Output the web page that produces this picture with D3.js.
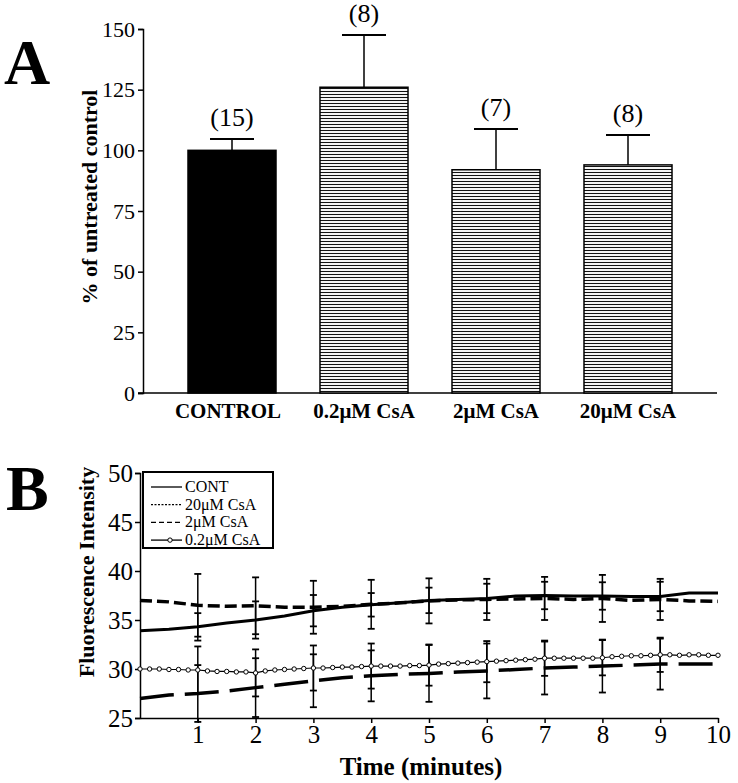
<!DOCTYPE html>
<html><head><meta charset="utf-8">
<script src="https://cdn.jsdelivr.net/npm/d3@7"></script>
<style>
html,body{margin:0;padding:0;background:#fff;}
svg{display:block;}
svg text{font-family:"Liberation Serif","Times New Roman",serif !important;fill:#000;}
</style></head>
<body><svg id="c" width="738" height="783"></svg>
<script>
// ---------- Panel A data ----------
const categoriesA = ["CONTROL", "0.2\u03bcM CsA", "2\u03bcM CsA", "20\u03bcM CsA"];
const valuesA = [100, 126, 92, 94];
const errorsA = [4.7, 21.5, 16.8, 12.3];
const countsA = ["(15)", "(8)", "(7)", "(8)"];
const ticksA = [0, 25, 50, 75, 100, 125, 150];

// ---------- Panel B data ----------
const timeHalfMin = [0,0.5,1,1.5,2,2.5,3,3.5,4,4.5,5,5.5,6,6.5,7,7.5,8,8.5,9,9.5,10];
const contB = [33.9,34.05,34.3,34.7,35.0,35.4,35.95,36.3,36.55,36.75,37.0,37.1,37.2,37.45,37.5,37.45,37.45,37.4,37.4,37.75,37.75];
const cs20B = [37.0,36.85,36.5,36.4,36.45,36.3,36.3,36.4,36.6,36.75,36.95,37.05,37.1,37.15,37.2,37.1,37.2,37.0,37.1,36.95,36.9];
const cs2B  = [27.0,27.35,27.5,27.75,28.1,28.45,28.8,29.1,29.3,29.45,29.55,29.7,29.8,29.95,30.1,30.2,30.3,30.4,30.5,30.5,30.5];
const timeSec = [0,10,20,30,40,50,60,70,80,90,100,110,120,130,140,150,160,170,180,190,200,210,220,230,240,250,260,270,280,290,300,310,320,330,340,350,360,370,380,390,400,410,420,430,440,450,460,470,480,490,500,510,520,530,540,550,560,570,580,590,600];
const cs02B = [30.0,30.0,30.0,29.95,29.95,29.9,
               29.9,29.8,29.75,29.75,29.7,29.7,
               29.6,29.8,29.9,29.95,30.0,30.05,
               30.1,30.1,30.15,30.2,30.2,30.25,
               30.3,30.3,30.3,30.3,30.35,30.35,
               30.4,30.5,30.55,30.6,30.65,30.7,
               30.75,30.8,30.85,30.9,30.95,31.0,
               31.1,31.1,31.1,31.1,31.1,31.1,
               31.15,31.25,31.3,31.35,31.35,31.4,
               31.45,31.45,31.4,31.45,31.45,31.4,
               31.4];
const errMinutes = [1,2,3,4,5,6,7,8,9];
const contErr = [1.4,1.9,1.6,1.2,1.3,1.5,1.4,1.4,1.5];
const cs20Err = [3.2,2.9,2.7,2.5,2.3,2.1,2.2,2.4,2.1];
const cs2Err  = [2.9,3.0,2.7,2.6,2.9,2.8,2.7,2.7,2.6];
const cs02Err = [2.4,2.4,2.3,2.3,2.1,2.1,1.8,1.8,1.75];
const ticksBy = [25,30,35,40,45,50];
const ticksBx = [1,2,3,4,5,6,7,8,9,10];
const legendB = ["CONT", "20\u03bcM CsA", "2\u03bcM CsA", "0.2\u03bcM CsA"];

const svg = d3.select("#c");
const SERIF = "'Liberation Serif','Times New Roman',serif";

// ================= PANEL A =================
const gA = svg.append("g");
const yA = d3.scaleLinear().domain([0,150]).range([393,29]);
const xA = d3.scaleBand().domain(categoriesA).range([166,694]).paddingInner(1/3).paddingOuter(1/6);

const defs = svg.append("defs");
const pat = defs.append("pattern").attr("id","hatch").attr("patternUnits","userSpaceOnUse")
  .attr("width",8).attr("height",3);
pat.append("rect").attr("width",8).attr("height",3).attr("fill","#fff");
pat.append("line").attr("x1",0).attr("x2",8).attr("y1",1.5).attr("y2",1.5)
  .attr("stroke","#111").attr("stroke-width",1.1);

gA.append("text").attr("x",4).attr("y",84).style("font-size","64px").style("font-weight","bold").text("A");

function styleAxis(g, fs){
  g.attr("font-family", SERIF);
  g.select(".domain").attr("stroke","#000").attr("stroke-width",1.5);
  g.selectAll(".tick line").attr("stroke","#000").attr("stroke-width",1.5);
  g.selectAll(".tick text").style("font-family",SERIF).style("font-size",fs+"px").attr("fill","#000");
}

gA.append("g").attr("transform","translate(143,0)")
  .call(d3.axisLeft(yA).tickValues(ticksA).tickSize(5).tickPadding(3))
  .call(g=>styleAxis(g,22));
gA.append("line").attr("x1",138).attr("x2",717).attr("y1",yA(0)).attr("y2",yA(0)).attr("stroke","#000").attr("stroke-width",1.5);

categoriesA.forEach((c,i)=>{
  const cx = xA(c)+xA.bandwidth()/2;
  gA.append("line").attr("x1",cx).attr("x2",cx).attr("y1",yA(valuesA[i])).attr("y2",yA(valuesA[i]+errorsA[i])).attr("stroke","#000").attr("stroke-width",1.5);
  gA.append("line").attr("x1",cx-22).attr("x2",cx+22).attr("y1",yA(valuesA[i]+errorsA[i])).attr("y2",yA(valuesA[i]+errorsA[i])).attr("stroke","#000").attr("stroke-width",2);
  gA.append("text").attr("x",cx).attr("y",yA(valuesA[i]+errorsA[i])-13).attr("text-anchor","middle").style("font-size","26px").text(countsA[i]);
});
gA.selectAll("rect.bar").data(categoriesA).enter().append("rect").attr("class","bar")
  .attr("x",d=>xA(d)).attr("width",xA.bandwidth())
  .attr("y",(d,i)=>yA(valuesA[i])).attr("height",(d,i)=>yA(0)-yA(valuesA[i]))
  .attr("fill",(d,i)=>i===0?"#000":"url(#hatch)").attr("stroke","#000").attr("stroke-width",1.5);
categoriesA.forEach((c,i)=>{
  gA.append("text").attr("x",xA(c)+xA.bandwidth()/2-(i===0?4:0)).attr("y",418).attr("text-anchor","middle")
    .style("font-size","21px").style("font-weight","bold").text(c);
});
gA.append("text").attr("transform","translate(97,197) rotate(-90)").attr("text-anchor","middle")
  .style("font-size","22px").style("font-weight","bold").text("% of untreated control");

// ================= PANEL B =================
const gB = svg.append("g");
const xB = d3.scaleLinear().domain([0,10]).range([140,718]);
const yB = d3.scaleLinear().domain([25,50]).range([718,473]);

gB.append("text").attr("x",6).attr("y",510).style("font-size","64px").style("font-weight","bold").text("B");

gB.append("g").attr("transform","translate(140,0)")
  .call(d3.axisLeft(yB).tickValues(ticksBy).tickSize(5).tickPadding(2))
  .call(g=>styleAxis(g,25));
gB.append("g").attr("transform","translate(0,718)")
  .call(d3.axisBottom(xB).tickValues(ticksBx).tickSize(5).tickPadding(2).tickSizeOuter(0))
  .call(g=>styleAxis(g,25));

gB.append("text").attr("x",421).attr("y",775).attr("text-anchor","middle").style("font-size","25px")
  .style("font-weight","bold").text("Time (minutes)");
gB.append("text").attr("transform","translate(94,572) rotate(-90)").attr("text-anchor","middle")
  .style("font-size","22px").style("font-weight","bold").text("Fluorescence Intensity");

function errBars(vals, idxStep, errs){
  errMinutes.forEach((m,k)=>{
    const v = vals[m*idxStep], e = errs[k], x = xB(m);
    gB.append("line").attr("x1",x).attr("x2",x).attr("y1",yB(v-e)).attr("y2",yB(v+e)).attr("stroke","#000").attr("stroke-width",1.5);
    [v-e, v+e].forEach(t=>gB.append("line").attr("x1",x-3.5).attr("x2",x+3.5).attr("y1",yB(t)).attr("y2",yB(t)).attr("stroke","#000").attr("stroke-width",1.8));
  });
}
errBars(cs20B,2,cs20Err);
errBars(contB,2,contErr);
errBars(cs2B,2,cs2Err);
errBars(cs02B,6,cs02Err);

const lineH = d3.line().x((d,i)=>xB(timeHalfMin[i])).y(d=>yB(d));
const lineS = d3.line().x((d,i)=>xB(timeSec[i]/60)).y(d=>yB(d));

gB.append("path").attr("d",lineH(cs20B)).attr("fill","none").attr("stroke","#000").attr("stroke-width",3.5).attr("stroke-dasharray","12,5");
gB.append("path").attr("d",lineH(contB)).attr("fill","none").attr("stroke","#000").attr("stroke-width",3);
gB.append("path").attr("d",lineH(cs2B)).attr("fill","none").attr("stroke","#000").attr("stroke-width",3.5).attr("stroke-dasharray","34,11");
gB.append("path").attr("d",lineS(cs02B)).attr("fill","none").attr("stroke","#000").attr("stroke-width",1.2);
gB.selectAll("circle.p").data(cs02B).enter().append("circle").attr("class","p")
  .attr("cx",(d,i)=>xB(timeSec[i]/60)).attr("cy",d=>yB(d)).attr("r",2.2)
  .attr("fill","#fff").attr("stroke","#000").attr("stroke-width",1);

const lg = gB.append("g");
lg.append("rect").attr("x",143).attr("y",472).attr("width",130).attr("height",76).attr("fill","#fff").attr("stroke","#000").attr("stroke-width",2);
const legDash = [null,"2,1.5","5,3",null];
legendB.forEach((t,i)=>{
  const yb = 492 + i*17.7;
  const ly = yb - 5;
  lg.append("line").attr("x1",151).attr("x2",182).attr("y1",ly).attr("y2",ly).attr("stroke","#000").attr("stroke-width",1.3)
    .attr("stroke-dasharray",legDash[i]);
  if(i===3) lg.append("circle").attr("cx",170).attr("cy",ly).attr("r",2.2).attr("fill","#fff").attr("stroke","#000");
  lg.append("text").attr("x",185).attr("y",yb).style("font-size","16px").text(t);
});
</script></body></html>
